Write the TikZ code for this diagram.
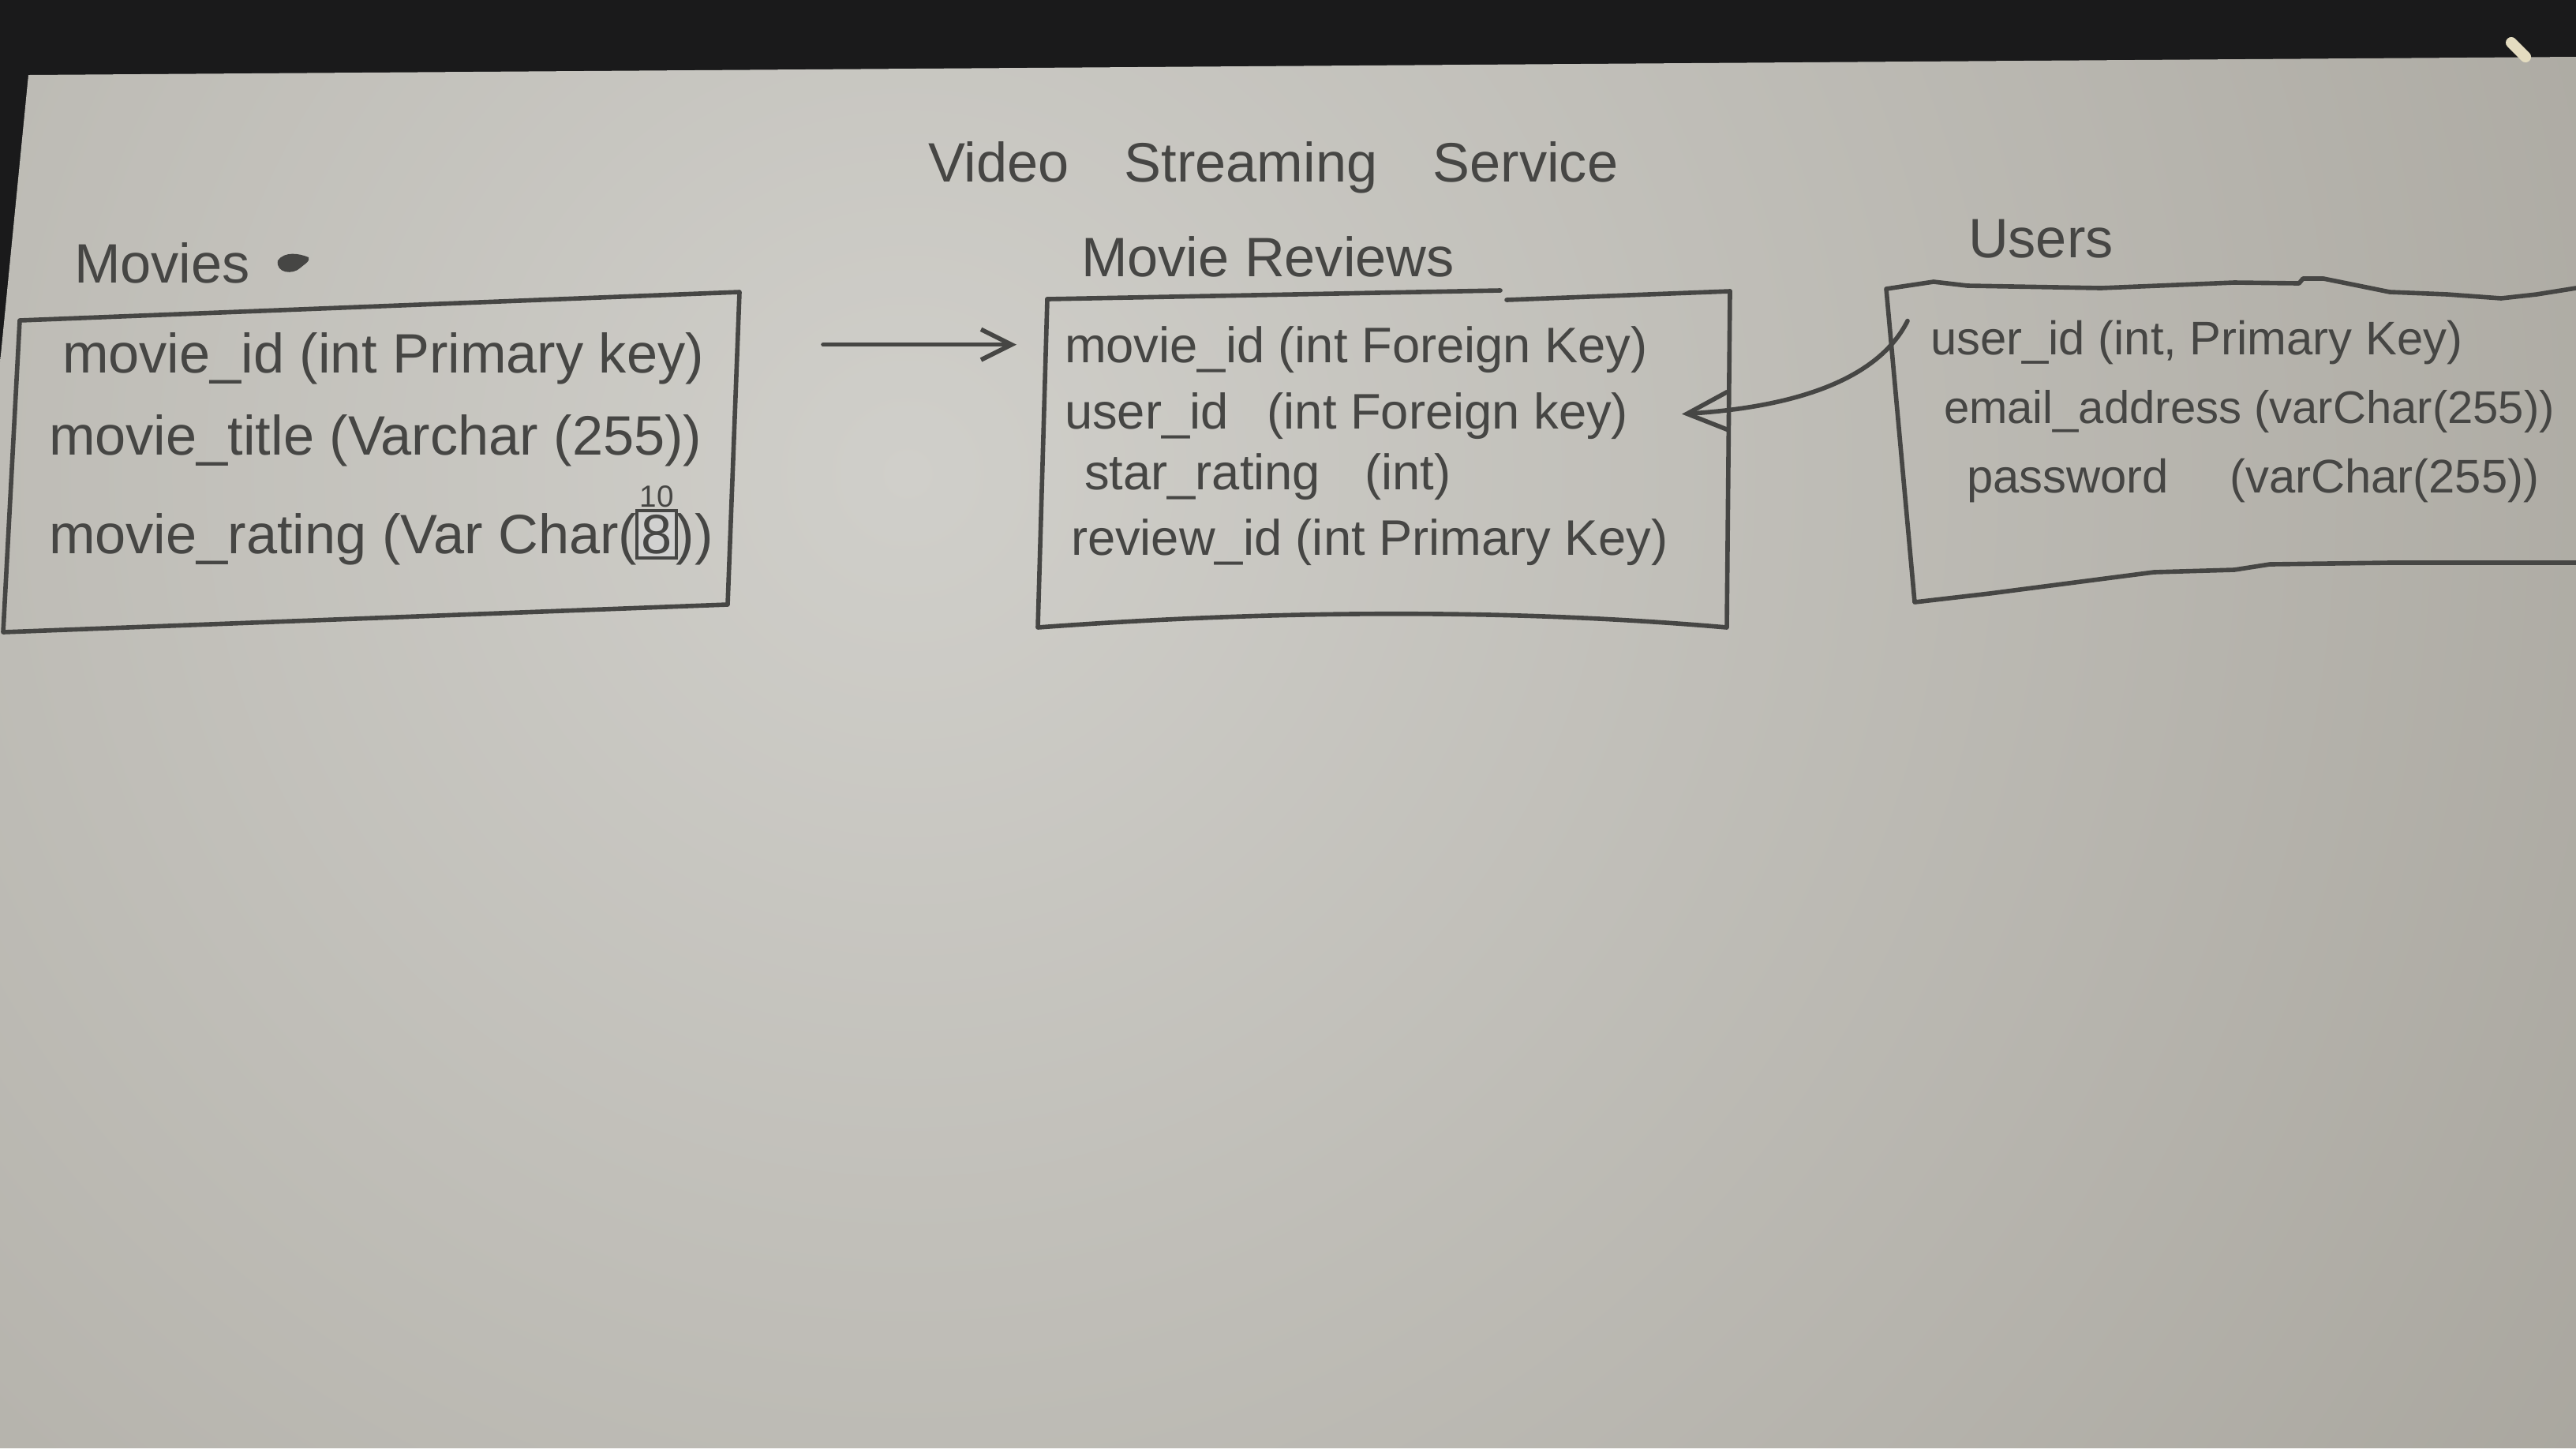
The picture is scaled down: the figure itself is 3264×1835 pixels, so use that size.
\documentclass[tikz,border=0pt]{standalone}
\usepackage{fontspec}
\setmainfont{Liberation Sans}
\usetikzlibrary{arrows.meta,fit,calc}
\definecolor{ink}{RGB}{70,70,68}
\definecolor{paperhi}{RGB}{208,207,202}
\definecolor{paperlo}{RGB}{166,163,155}
\definecolor{backdrop}{RGB}{26,26,27}
\definecolor{glint}{RGB}{228,220,192}
\begin{document}
\begin{tikzpicture}[x=0.01cm,y=-0.01cm,
  pen/.style={draw=ink,line width=1.6pt,line cap=round,line join=round},
  field/.style={anchor=base west,inner sep=0pt,outer sep=0pt,text=ink},
  tablebig/.style={font=\fontsize{20}{24}\selectfont},
  tablemid/.style={font=\fontsize{18}{22}\selectfont},
  tablesmall/.style={font=\fontsize{17}{21}\selectfont},
  barb/.style={-{Straight Barb[length=#1,width=#1]}},
  frame/.style={fit=#1,inner sep=0pt,outer sep=0pt},
]
\useasboundingbox (0,0) rectangle (3264,1835);

% desk behind the sheet, and the sheet itself
\fill[backdrop] (0,0) rectangle (3264,1835);
\begin{scope}
  \clip (36,95) -- (3264,72) -- (3264,1835) -- (0,1835) -- (0,460) -- cycle;
  \shade[inner color=paperhi, outer color=paperlo] (1150,600) circle (2700);
\end{scope}
\draw[glint, line width=4pt, line cap=round] (3182,54) -- (3200,72);

% heading
\node[field,tablebig] (title) at (1176,230) {Video\hspace{20pt}Streaming\hspace{20pt}Service};

% ---------- Movies ----------
\node[field,tablebig] (lblMovies) at (94,358) {Movies};
\fill[ink] (352,330) .. controls (349,346) and (371,349) .. (381,339)
  .. controls (388,333) and (393,331) .. (391,326)
  .. controls (379,321) and (361,318) .. cycle;

\coordinate (mTL) at (25,406);
\coordinate (mTR) at (937,370);
\coordinate (mBR) at (922,766);
\coordinate (mBL) at (4,801);
\draw[pen] (mTL) -- (mTR) -- (mBR) -- (mBL) -- cycle;
\node[frame={(mTL)(mTR)(mBR)(mBL)}] (movies) {};

\node[field,tablebig] (mvId) at (79,472) {movie\_id (int Primary key)};
\node[field,tablebig] (mvTitle) at (62,576) {movie\_title (Varchar (255))};
\node[field,tablebig] (mvRate) at (62,701) {movie\_rating (Var Char(};
\node[field,tablebig,draw=ink,line width=1.1pt,fill=ink!25,inner sep=1.5pt] (mvOld) at (mvRate.base east) {8};
\node[field,tablebig] (mvRateEnd) at (mvOld.east |- mvRate.base) {))};
\node[text=ink,font=\fontsize{11}{13}\selectfont,inner sep=1pt,anchor=south] (mvNew) at (mvOld.north) {10};

% ---------- Movie Reviews ----------
\node[field,tablebig] (lblReviews) at (1370,350) {Movie Reviews};

\coordinate (rTL) at (1327,379);
\coordinate (rTR) at (2192,369);
\coordinate (rBR) at (2188,795);
\coordinate (rBL) at (1315,795);
\draw[pen] (rTL) -- (1901,368);
\draw[pen] (1909,380) -- (rTR);
\draw[pen] (rTR) -- (rBR) .. controls (1900,770) and (1600,774) .. (rBL) -- (rTL);
\node[frame={(rTL)(rTR)(rBR)(rBL)}] (reviews) {};

\node[field,tablemid] (rvMovie) at (1349,459) {movie\_id (int Foreign Key)};
\node[field,tablemid] (rvUser) at (1349,543) {user\_id\hspace{14pt}(int Foreign key)};
\node[field,tablemid] (rvStars) at (1374,620) {star\_rating\hspace{16pt}(int)};
\node[field,tablemid] (rvId) at (1357,703) {review\_id (int Primary Key)};

% ---------- Users ----------
\node[field,tablebig] (lblUsers) at (2494,326) {Users};

\coordinate (uTL) at (2390,366);
\coordinate (uBL) at (2426,763);
\coordinate (uTR) at (3264,365);
\coordinate (uBR) at (3264,713);
\draw[pen] (uTR) -- (3214,373) -- (3169,378) -- (3101,373) -- (3028,370)
  -- (2944,353) -- (2918,353) -- (2913,359) -- (2831,358) -- (2662,365)
  -- (2493,362) -- (2450,357) -- (uTL) -- (uBL)
  -- (2521,752) -- (2729,725) -- (2831,722) -- (2876,715) -- (3028,713) -- (uBR);
\node[frame={(uTL)(uTR)(uBR)(uBL)}] (users) {};

\node[field,tablesmall] (usId) at (2446,449) {user\_id (int, Primary Key)};
\node[field,font=\fontsize{16.5}{20}\selectfont] (usMail) at (2463,536) {email\_address (varChar(255))};
\node[field,tablesmall] (usPass) at (2492,624) {password\hspace{22pt}(varChar(255))};

% ---------- relations ----------
\draw[pen,barb=11pt] ($(movies.east |- rvMovie.center)+(106,-6)$)
  -- ($(reviews.west |- rvMovie.center)+(-27,-6)$);
\draw[pen,-{Straight Barb[length=15pt,width=14pt]}]
  ($(users.west |- usId.center)+(27,-27)$)
  .. controls +(-40,80) and +(130,-8) ..
  ($(reviews.east |- rvUser.center)+(-61,-2)$);
\end{tikzpicture}
\end{document}
